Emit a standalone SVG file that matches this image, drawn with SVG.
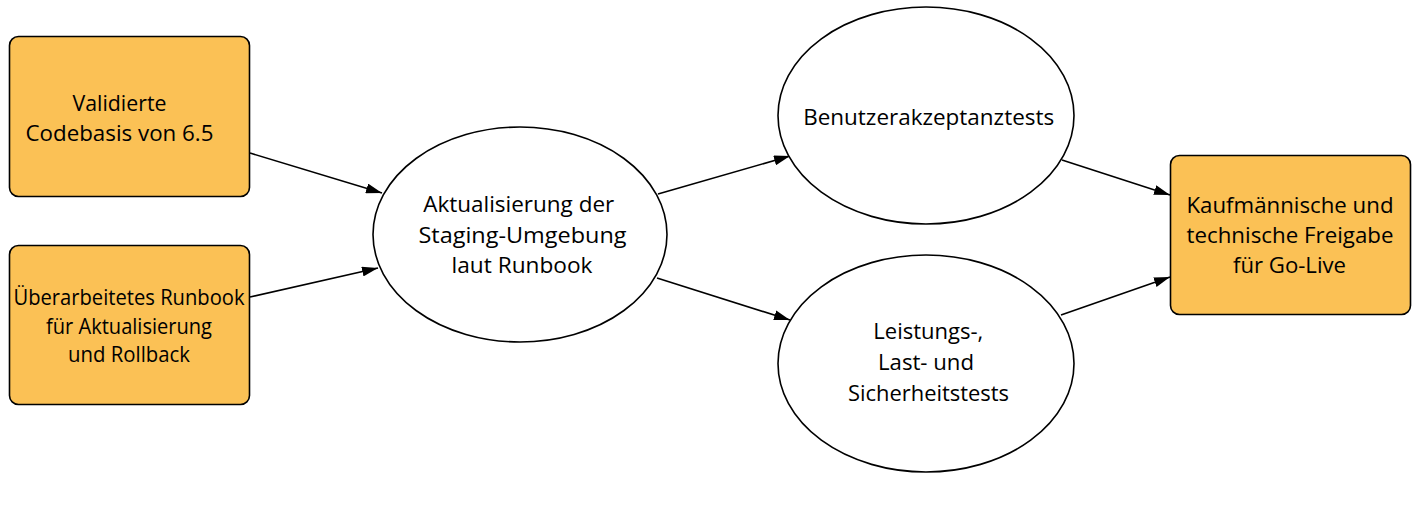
<svg xmlns="http://www.w3.org/2000/svg" width="1419" height="527" viewBox="0 0 1419 527">
<style>
.box{fill:#FBC155;stroke:#000;stroke-width:1.6}
.ell{fill:#fff;stroke:#000;stroke-width:1.6}
.t{font-family:"Open Sans","Noto Sans",sans-serif;font-size:22.5px;fill:#000;text-anchor:middle}
.c{fill:none;stroke:#000;stroke-width:1.6}
</style>
<defs>
<marker id="ah" viewBox="0 0 16 10" refX="16" refY="5" markerWidth="16" markerHeight="10" markerUnits="userSpaceOnUse" orient="auto">
<path d="M0,0 L16,5 L0,10 Z" fill="#000"/>
</marker>
</defs>
<rect width="1419" height="527" fill="#fff"/>
<g id="connectors">
<line class="c" x1="250" y1="153" x2="382" y2="193" marker-end="url(#ah)"/>
<line class="c" x1="250" y1="297" x2="378" y2="268" marker-end="url(#ah)"/>
<line class="c" x1="658" y1="194" x2="790" y2="156" marker-end="url(#ah)"/>
<line class="c" x1="657" y1="278" x2="790" y2="320" marker-end="url(#ah)"/>
<line class="c" x1="1062" y1="160" x2="1170" y2="195" marker-end="url(#ah)"/>
<line class="c" x1="1061" y1="315" x2="1170" y2="277" marker-end="url(#ah)"/>
</g>
<g id="n1">
<rect class="box" x="9.5" y="36.5" width="240" height="160" rx="9"/>
<text class="t" x="119.5" y="111" textLength="94" lengthAdjust="spacingAndGlyphs">Validierte</text>
<text class="t" x="119.5" y="141" textLength="188" lengthAdjust="spacingAndGlyphs">Codebasis von 6.5</text>
</g>
<g id="n2">
<rect class="box" x="9.5" y="245.5" width="240" height="159" rx="9"/>
<text class="t" x="129" y="305" textLength="231" lengthAdjust="spacingAndGlyphs">Überarbeitetes Runbook</text>
<text class="t" x="129" y="334" textLength="166" lengthAdjust="spacingAndGlyphs">für Aktualisierung</text>
<text class="t" x="129" y="362" textLength="122" lengthAdjust="spacingAndGlyphs">und Rollback</text>
</g>
<g id="n3">
<ellipse class="ell" cx="520" cy="234.5" rx="147" ry="107.5"/>
<text class="t" x="518.7" y="212" textLength="191" lengthAdjust="spacingAndGlyphs">Aktualisierung der</text>
<text class="t" x="522.5" y="243" textLength="208" lengthAdjust="spacingAndGlyphs">Staging-Umgebung</text>
<text class="t" x="522" y="273" textLength="141" lengthAdjust="spacingAndGlyphs">laut Runbook</text>
</g>
<g id="n4">
<ellipse class="ell" cx="926" cy="115.5" rx="148" ry="108.5"/>
<text class="t" x="928.7" y="125" textLength="251" lengthAdjust="spacingAndGlyphs">Benutzerakzeptanztests</text>
</g>
<g id="n5">
<ellipse class="ell" cx="926" cy="363.5" rx="148" ry="108.5"/>
<text class="t" x="928.3" y="339" textLength="110" lengthAdjust="spacingAndGlyphs">Leistungs-,</text>
<text class="t" x="926" y="370" textLength="96" lengthAdjust="spacingAndGlyphs">Last- und</text>
<text class="t" x="928.5" y="401" textLength="161" lengthAdjust="spacingAndGlyphs">Sicherheitstests</text>
</g>
<g id="n6">
<rect class="box" x="1170.5" y="155.5" width="240" height="159" rx="9"/>
<text class="t" x="1290" y="213" textLength="207" lengthAdjust="spacingAndGlyphs">Kaufmännische und</text>
<text class="t" x="1290" y="243" textLength="207" lengthAdjust="spacingAndGlyphs">technische Freigabe</text>
<text class="t" x="1289.5" y="273" textLength="113" lengthAdjust="spacingAndGlyphs">für Go-Live</text>
</g>
</svg>
